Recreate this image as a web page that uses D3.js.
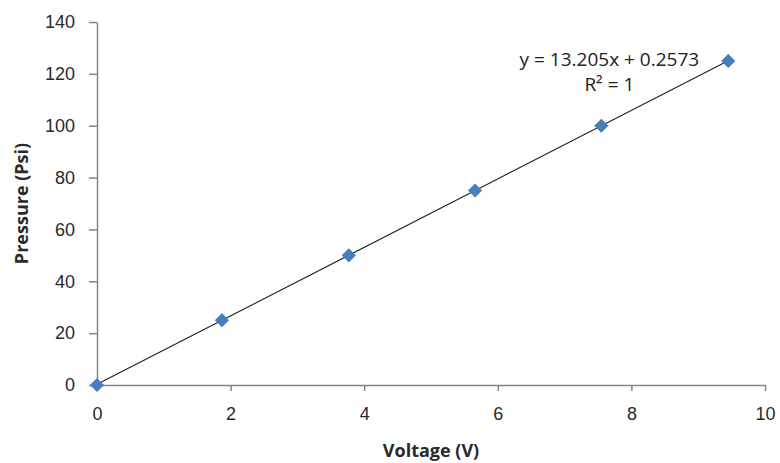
<!DOCTYPE html>
<html>
<head>
<meta charset="utf-8">
<script src="https://cdn.jsdelivr.net/npm/d3@7"></script>
<style>
  body { margin: 0; background: #fff; }
  svg { display: block; font-family: "Open Sans", "Liberation Sans", sans-serif; }
</style>
</head>
<body>
<svg id="chart" width="780" height="463"></svg>
<script>
const voltage = [0, 1.87, 3.77, 5.66, 7.55, 9.45];
const pressure = [0, 25, 50, 75, 100, 125];
const slope = 13.205;
const intercept = 0.2573;
const xTicks = [0, 2, 4, 6, 8, 10];
const yTicks = [0, 20, 40, 60, 80, 100, 120, 140];

const svg = d3.select("#chart");
const margin = { top: 22, right: 15, bottom: 78, left: 97 };
const width = 780 - margin.left - margin.right;
const height = 463 - margin.top - margin.bottom;

const g = svg.append("g").attr("transform", `translate(${margin.left},${margin.top})`);

const x = d3.scaleLinear().domain([0, 10]).range([0, width]);
const y = d3.scaleLinear().domain([0, 140]).range([height, 0]);

// Axes
const xAxis = g.append("g")
  .attr("transform", `translate(0,${height})`)
  .call(d3.axisBottom(x).tickValues(xTicks).tickSize(6).tickSizeOuter(0).tickPadding(16));
const yAxis = g.append("g")
  .call(d3.axisLeft(y).tickValues(yTicks).tickSize(8).tickSizeOuter(0).tickPadding(14));

[xAxis, yAxis].forEach(a => {
  a.select(".domain").attr("stroke", "#868686").attr("stroke-width", 1.5);
  a.selectAll(".tick line").attr("stroke", "#868686").attr("stroke-width", 1.5);
  a.selectAll(".tick text").attr("fill", "#2a2a2a").style("font-size", "18px");
});

// Trendline
const xMax = d3.max(voltage);
g.append("line")
  .attr("x1", x(0)).attr("y1", y(intercept))
  .attr("x2", x(xMax)).attr("y2", y(slope * xMax + intercept))
  .attr("stroke", "#222").attr("stroke-width", 1.2);

// Markers (square rotated 45deg)
const pts = voltage.map((v, i) => ({ v, p: pressure[i] }));
g.selectAll(".pt")
  .data(pts)
  .enter()
  .append("path")
  .attr("class", "pt")
  .attr("d", d3.symbol(d3.symbolSquare, 100))
  .attr("transform", d => `translate(${x(d.v)},${y(d.p)}) rotate(45)`)
  .attr("fill", "#4a7ebb");

// Equation
g.append("text")
  .attr("x", x(7.67)).attr("y", y(123.2))
  .attr("text-anchor", "middle")
  .attr("fill", "#222").style("font-size", "19px")
  .text("y = 13.205x + 0.2573");
g.append("text")
  .attr("x", x(7.67)).attr("y", y(113.2))
  .attr("text-anchor", "middle")
  .attr("fill", "#222").style("font-size", "19px")
  .text("R² = 1");

// Axis titles
svg.append("text")
  .attr("x", margin.left + x(5)).attr("y", 457)
  .attr("text-anchor", "middle")
  .attr("fill", "#2a2a2a").style("font-size", "18px").style("font-weight", "bold")
  .text("Voltage (V)");
svg.append("text")
  .attr("transform", `translate(28,${margin.top + y(70)}) rotate(-90)`)
  .attr("text-anchor", "middle")
  .attr("fill", "#2a2a2a").style("font-size", "18px").style("font-weight", "bold")
  .text("Pressure (Psi)");
</script>
</body>
</html>
